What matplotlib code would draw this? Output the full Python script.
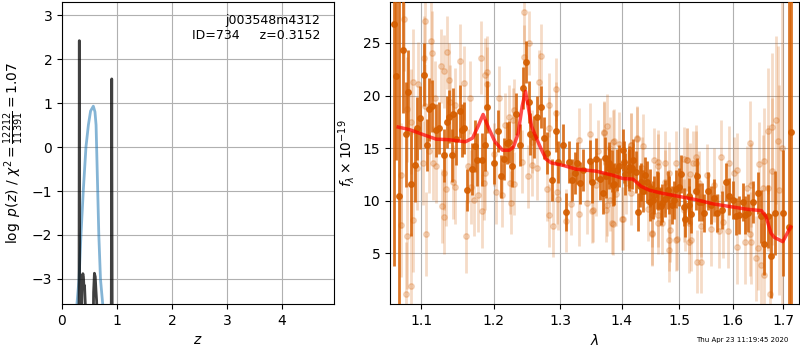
"""
Redshift fit summary: p(z) on the left, spectrum + model on the right
"""
import numpy as np
import matplotlib
matplotlib.use('Agg')
import matplotlib.pyplot as plt
from matplotlib.ticker import FixedLocator, FixedFormatter, NullLocator

# ---- p(z) panel ----
obj_name = 'j003548m4312'
obj_id = 734
z_best = 0.3152
chi2_num = 12212
chi2_dof = 11391

# full p(z) (dark)
pz_z = [0.29, 0.31, 0.3152, 0.32, 0.335, 0.35, 0.365, 0.38, 0.39, 0.40,
        0.41, 0.425, 0.44, 0.455, 0.56, 0.575, 0.59, 0.605, 0.62, 0.63,
        0.645, 0.66, 0.88, 0.897, 0.905, 0.913, 0.93]
pz_logp = [-5.0, -3.5, 2.42, -3.5, -5.0, -4.5, -3.0, -2.88, -2.95, -3.2,
           -3.15, -3.6, -5.0, -5.0, -5.0, -3.3, -2.87, -2.95, -3.3, -3.5,
           -4.2, -5.0, -5.0, -3.5, 1.55, -3.5, -5.0]

# smooth first-pass p(z) (blue)
pz0_z = [0.25, 0.27, 0.31, 0.345, 0.387, 0.436, 0.48, 0.52, 0.57, 0.60,
         0.62, 0.63, 0.65, 0.67, 0.70, 0.75, 0.77]
pz0_logp = [-4.5, -3.6, -3.0, -2.0, -1.0, 0.0, 0.5, 0.82, 0.93, 0.80,
            0.5, 0.0, -1.0, -2.0, -3.0, -3.7, -4.5]

# ---- spectrum panel (flux in 1e-19) ----
dark_wave = [1.0646, 1.067, 1.071, 1.076, 1.080, 1.083, 1.086, 1.0915, 1.095, 1.099,
             1.104, 1.108, 1.110, 1.115, 1.120, 1.124, 1.130, 1.134, 1.138, 1.141,
             1.143, 1.147, 1.152, 1.155, 1.158, 1.162, 1.169, 1.174, 1.177, 1.184,
             1.187, 1.191, 1.201, 1.206, 1.211, 1.215, 1.219, 1.223, 1.227, 1.233,
             1.238, 1.243, 1.248, 1.252, 1.254, 1.260, 1.264, 1.271, 1.275, 1.280,
             1.288, 1.293, 1.297, 1.304, 1.309, 1.314, 1.318, 1.323, 1.327, 1.332,
             1.337, 1.347, 1.351, 1.358, 1.363, 1.368, 1.372, 1.378, 1.384, 1.387,
             1.395, 1.402, 1.406, 1.412, 1.418, 1.424, 1.428, 1.431, 1.437, 1.443,
             1.449, 1.455, 1.461, 1.467, 1.474, 1.480, 1.487, 1.494, 1.503, 1.508,
             1.517, 1.521, 1.533, 1.541, 1.546, 1.553, 1.558, 1.564, 1.570, 1.579,
             1.586, 1.592, 1.601, 1.607, 1.612, 1.619, 1.623, 1.630, 1.639, 1.649,
             1.656, 1.661, 1.669, 1.675, 1.683, 1.700, 1.711, 1.716]
dark_flux = [26.8, 21.9, 10.4, 24.3, 16.3, 20.3, 11.6, 13.4, 16.9, 17.9,
             22.0, 15.3, 18.7, 19.0, 16.7, 16.9, 14.3, 17.5, 18.0, 14.3,
             18.2, 15.9, 18.5, 16.7, 16.9, 11.0, 13.0, 15.2, 13.9, 13.9,
             15.3, 18.9, 13.6, 16.6, 12.3, 14.0, 15.5, 15.6, 13.3, 18.2,
             15.3, 20.7, 23.2, 19.4, 16.3, 16.1, 18.0, 18.9, 16.0, 14.5,
             12.0, 16.6, 13.7, 15.3, 8.9, 13.7, 12.0, 12.6, 13.6, 11.7,
             12.9, 13.8, 11.8, 14.0, 12.1, 10.7, 14.1, 13.1, 12.8, 11.6,
             13.3, 14.8, 12.5, 12.9, 13.1, 12.7, 8.9, 11.4, 10.9, 11.8,
             9.9, 10.5, 11.0, 9.5, 10.2, 11.0, 9.6, 11.1, 12.5, 9.4,
             10.4, 8.7, 12.3, 9.9, 8.8, 10.9, 9.6, 10.3, 8.8, 9.1,
             11.8, 10.4, 10.1, 8.5, 8.6, 9.9, 8.6, 8.8, 9.9, 10.7,
             8.5, 5.9, 8.5, 4.7, 8.8, 8.8, 7.5, 16.5]
dark_err = [23, 8, 20, 6, 5, 4, 5, 3.5, 3, 3,
            3, 2.5, 3, 2.5, 2.5, 2.5, 2.5, 2.5, 2.5, 2.5,
            2.5, 2.5, 2.5, 2.5, 2.5, 2, 2.5, 2.5, 2.5, 2.5,
            2.5, 2.5, 2, 2, 2, 2, 2, 2, 2, 2,
            2, 2, 2, 2, 2, 2, 2, 2, 2, 2,
            2, 2, 2, 2, 1.8, 2, 2, 2, 2, 2,
            2, 2, 2, 2, 2, 2, 2, 2, 2, 2,
            2, 2, 2, 2, 2, 2, 1.8, 2, 2, 2,
            1.8, 1.8, 1.8, 1.8, 1.8, 1.8, 1.8, 1.8, 1.8, 1.8,
            1.8, 1.8, 1.8, 1.8, 1.8, 1.8, 1.8, 1.8, 1.8, 1.8,
            1.8, 1.8, 1.8, 1.8, 1.8, 1.8, 1.8, 1.8, 2, 2,
            2.5, 3, 3, 4, 4, 6, 30, 30]

# extra dark points in the dense 1.37-1.54 band
dark_extra_wave = [1.373, 1.378, 1.386, 1.392, 1.404, 1.413, 1.419, 1.433, 1.439, 1.448,
                   1.454, 1.463, 1.469, 1.481, 1.490, 1.499, 1.511, 1.518, 1.530, 1.536]
dark_extra_flux = [12.3, 13.6, 11.5, 12.9, 13.7, 13.2, 13.9, 11.8, 12.4, 11.2,
                   10.1, 10.9, 9.8, 10.5, 10.1, 11.3, 8.3, 9.6, 10.9, 9.9]
dark_extra_err = [2, 2, 2, 2, 2, 2, 2, 1.8, 1.8, 1.8,
                  1.8, 1.8, 1.8, 1.8, 1.8, 1.8, 1.8, 1.8, 1.8, 1.8]

light_wave = [1.074, 1.074, 1.077, 1.080, 1.082, 1.082, 1.086, 1.087, 1.089, 1.089,
              1.094, 1.096, 1.102, 1.104, 1.105, 1.105, 1.107, 1.111, 1.113, 1.115,
              1.116, 1.119, 1.120, 1.127, 1.128, 1.130, 1.131, 1.131, 1.133, 1.135,
              1.138, 1.139, 1.143, 1.146, 1.146, 1.152, 1.158, 1.161, 1.164, 1.166,
              1.168, 1.172, 1.178, 1.182, 1.183, 1.186, 1.187, 1.188, 1.190, 1.191,
              1.200, 1.204, 1.208, 1.212, 1.217, 1.222, 1.224, 1.226, 1.228, 1.230,
              1.230, 1.241, 1.244, 1.244, 1.251, 1.252, 1.256, 1.256, 1.264, 1.268,
              1.270, 1.280, 1.282, 1.282, 1.283, 1.289, 1.293, 1.293, 1.295, 1.297,
              1.309, 1.317, 1.330, 1.330, 1.342, 1.348, 1.350, 1.352, 1.357, 1.361,
              1.371, 1.375, 1.375, 1.380, 1.381, 1.385, 1.387, 1.390, 1.396, 1.402,
              1.407, 1.415, 1.415, 1.425, 1.435, 1.444, 1.451, 1.456, 1.462, 1.463,
              1.470, 1.475, 1.481, 1.481, 1.482, 1.494, 1.494, 1.508, 1.511, 1.514,
              1.518, 1.518, 1.519, 1.525, 1.531, 1.532, 1.537, 1.540, 1.540, 1.551,
              1.558, 1.564, 1.574, 1.577, 1.582, 1.590, 1.592, 1.603, 1.608, 1.608,
              1.624, 1.627, 1.633, 1.634, 1.636, 1.636, 1.646, 1.649, 1.651, 1.655,
              1.659, 1.661, 1.661, 1.669, 1.670, 1.674, 1.677, 1.678, 1.685, 1.690,
              1.692, 1.697]
light_flux = [12.4, 7.7, 27.3, 1.1, 18.7, 6.6, 1.9, 17.5, 21.3, 8.2,
              13.1, 21.1, 13.6, 23.6, 27.1, 19.0, 6.8, 14.7, 25.2, 24.0,
              13.6, 19.8, 13.3, 22.8, 9.5, 12.6, 22.3, 8.4, 11.1, 24.1,
              21.5, 19.4, 11.8, 19.1, 11.3, 23.3, 21.2, 6.6, 13.3, 19.8,
              11.3, 10.1, 10.5, 23.6, 9.0, 11.7, 12.6, 22.0, 22.2, 21.1,
              14.4, 10.8, 19.8, 10.5, 17.2, 18.0, 11.7, 9.8, 17.7, 18.6,
              11.6, 13.7, 27.9, 23.7, 12.3, 25.0, 15.6, 13.4, 13.1, 21.3,
              23.8, 11.1, 19.1, 16.9, 8.6, 7.6, 20.6, 18.3, 10.8, 10.2,
              8.1, 9.7, 15.8, 8.7, 9.8, 16.3, 9.0, 9.1, 11.5, 14.7,
              16.5, 17.1, 9.6, 15.0, 10.1, 7.8, 15.7, 10.6, 15.4, 8.3,
              11.7, 15.3, 10.7, 16.0, 13.1, 9.2, 6.8, 13.9, 13.3, 8.6,
              7.9, 11.8, 12.6, 6.3, 5.3, 13.6, 6.3, 14.0, 8.2, 13.9,
              6.1, 7.9, 12.5, 13.6, 14.2, 4.2, 11.7, 7.6, 4.2, 12.4,
              7.3, 11.5, 7.1, 14.2, 8.0, 7.1, 13.6, 12.6, 12.9, 5.6,
              6.1, 11.2, 6.8, 15.5, 11.5, 6.1, 4.5, 5.5, 13.5, 3.9,
              11.2, 13.8, 2.9, 11.2, 16.6, 1.1, 17.0, 12.8, 17.7, 15.7,
              11.0, 15.0]
light_err = [5, 5, 5, 5, 5, 5, 5, 5, 5, 5,
             4, 4, 4, 4, 4, 4, 4, 4, 4, 4,
             3.5, 3.5, 3.5, 3.5, 3.5, 3.5, 3.5, 3.5, 3.5, 3.5,
             3.5, 3.5, 3.5, 3.5, 3.5, 3.5, 3.5, 3.5, 3.5, 3.5,
             3.5, 3.5, 3.5, 3.5, 3.5, 3.5, 3.5, 3.5, 3.5, 3.5,
             3, 3, 3, 3, 3, 3, 3, 3, 3, 3,
             3, 3, 3, 3, 3, 3, 3, 3, 3, 3,
             3, 3, 3, 3, 3, 3, 3, 3, 3, 3,
             3, 3, 3, 3, 3, 3, 3, 3, 3, 3,
             3, 3, 3, 3, 3, 3, 3, 3, 3, 3,
             3, 3, 3, 3, 3, 3, 3, 3, 3, 3,
             3, 3, 3, 3, 3, 3, 3, 3, 3, 3,
             3, 3, 3, 3, 3, 3, 3, 3, 3, 3,
             3.5, 3.5, 3.5, 3.5, 3.5, 3.5, 3.5, 3.5, 3.5, 3.5,
             4, 4, 4, 4, 4, 4, 4, 4, 4, 4,
             5, 5, 5, 6, 6, 6, 7, 7, 8, 9,
             10, 30]

light_extra_wave = [1.370, 1.386, 1.425, 1.416, 1.436, 1.463, 1.475, 1.515, 1.530, 1.373,
                    1.384, 1.401, 1.451, 1.463, 1.484, 1.496, 1.521, 1.451, 1.508]
light_extra_flux = [16.4, 15.6, 15.9, 15.3, 15.2, 13.7, 13.6, 13.9, 13.6, 9.1,
                    7.9, 8.3, 8.6, 7.9, 7.2, 6.4, 6.3, 6.9, 9.1]
light_extra_err = [3, 3, 3, 3, 3, 3, 3, 3, 3, 3,
                   3, 3, 3, 3, 3, 3, 3, 3, 3]

model_wave = [1.070, 1.085, 1.102, 1.120, 1.137, 1.160, 1.170, 1.178, 1.185, 1.193,
              1.202, 1.213, 1.223, 1.229, 1.236, 1.242, 1.247, 1.250, 1.256, 1.263,
              1.270, 1.278, 1.286, 1.305, 1.325, 1.358, 1.386, 1.402, 1.419, 1.433,
              1.447, 1.470, 1.500, 1.530, 1.562, 1.593, 1.625, 1.656, 1.665, 1.675,
              1.682, 1.699, 1.715]
model_flux = [17.0, 16.75, 16.3, 15.85, 15.8, 15.6, 15.95, 17.1, 18.2, 16.9,
              15.6, 14.8, 14.8, 15.1, 16.4, 19.0, 20.4, 19.3, 17.1, 16.0,
              15.0, 13.95, 13.6, 13.35, 13.0, 12.8, 12.4, 12.1, 12.05, 11.35,
              11.0, 10.7, 10.4, 10.1, 9.7, 9.45, 9.2, 9.05, 8.5, 6.9,
              6.5, 6.1, 7.5]

wave_ticks = [1.1, 1.2, 1.3, 1.4, 1.5, 1.6, 1.7]
timestamp = 'Thu Apr 23 11:19:45 2020'

spec_color = '#d55e00'

fig = plt.figure(figsize=(8, 3.5), dpi=100)

# 左侧: p(z)
ax = fig.add_axes([0.0775, 0.1314, 0.34, 0.863])
ax.plot(pz0_z, pz0_logp, color='C0', alpha=0.55, linewidth=2, zorder=2)
ax.plot(pz_z, pz_logp, color='k', alpha=0.75, linewidth=2, zorder=3)
ax.set_xlim(0, 4.95)
ax.set_ylim(-3.57, 3.3)
ax.set_xticks([0, 1, 2, 3, 4])
ax.set_yticks([-3, -2, -1, 0, 1, 2, 3])
ax.set_xlabel('$z$')
ax.set_ylabel(r'$\log\ p(z)$' + ' / ' +
              r'$\chi^2=\frac{%d}{%d}=%.2f$' % (chi2_num, chi2_dof, chi2_num / chi2_dof))
ax.text(0.95, 0.96, f'{obj_name}\nID={obj_id}     z={z_best:.4f}',
        ha='right', va='top', transform=ax.transAxes, fontsize=9)
ax.grid()

# 右侧: spectrum
ax2 = fig.add_axes([0.4875, 0.1314, 0.511, 0.863])
lw_all = light_wave + light_extra_wave
lf_all = light_flux + light_extra_flux
le_all = light_err + light_extra_err
ax2.errorbar(lw_all, lf_all, yerr=le_all, fmt='o', color=spec_color,
             alpha=0.22, markersize=4, elinewidth=2, zorder=2)
dw_all = dark_wave + dark_extra_wave
df_all = dark_flux + dark_extra_flux
de_all = dark_err + dark_extra_err
ax2.errorbar(dw_all, df_all, yerr=de_all, fmt='o', color=spec_color,
             alpha=0.85, markersize=4, elinewidth=2, zorder=3)
ax2.plot(model_wave, model_flux, color='r', alpha=0.7, linewidth=2.5, zorder=4)
ax2.set_xscale('log')
ax2.set_xlim(1.0595, 1.732)
ax2.set_ylim(0.17, 28.9)
ax2.xaxis.set_major_locator(FixedLocator(wave_ticks))
ax2.xaxis.set_major_formatter(FixedFormatter([f'{w:.1f}' for w in wave_ticks]))
ax2.xaxis.set_minor_locator(NullLocator())
ax2.set_yticks([5, 10, 15, 20, 25])
ax2.set_xlabel(r'$\lambda$')
ax2.set_ylabel(r'$f_\lambda \times 10^{-19}$')
ax2.grid()

fig.text(0.985, 0.02, timestamp, ha='right', va='bottom', fontsize=5)

fig.savefig('out.png', dpi=100)
